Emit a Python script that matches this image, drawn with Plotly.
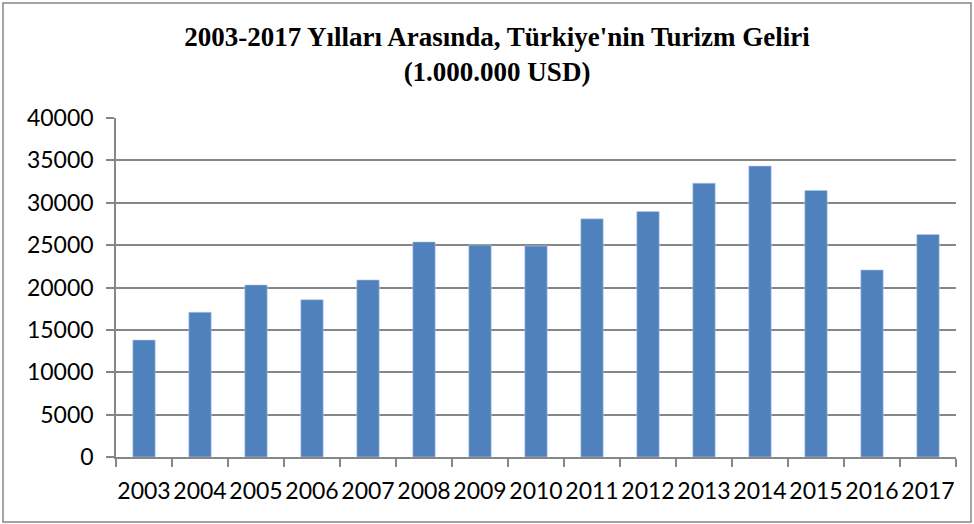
import plotly.graph_objects as go

years = ["2003", "2004", "2005", "2006", "2007", "2008", "2009", "2010",
         "2011", "2012", "2013", "2014", "2015", "2016", "2017"]
revenue = [13800, 17080, 20300, 18560, 20890, 25380, 25020, 24900,
           28100, 28970, 32310, 34330, 31450, 22070, 26250]

W, H = 974, 524
L, R, T, B = 116, 18, 118, 67
pw, ph = W - L - R, H - T - B

fig = go.Figure(go.Bar(
    x=years, y=revenue,
    marker=dict(color="#4F81BD", line=dict(color="#B9CDE5", width=0.6)),
))

def px_to_paper_x(px):
    return (px - L) / pw

def py_to_paper_y(py):
    return (H - B - py) / ph

fig.add_shape(type="rect", xref="paper", yref="paper",
              x0=px_to_paper_x(3), x1=px_to_paper_x(971),
              y0=py_to_paper_y(522), y1=py_to_paper_y(3),
              line=dict(color="#868686", width=1.5), layer="below")

fig.update_layout(
    width=W, height=H,
    margin=dict(l=L, r=R, t=T, b=B, autoexpand=False),
    paper_bgcolor="white", plot_bgcolor="white",
    bargap=0.6,
    showlegend=False,
    title=dict(
        text="2003-2017 Yılları Arasında, Türkiye'nin Turizm Geliri<br>(1.000.000 USD)",
        x=497 / W, xanchor="center", xref="container",
        y=1 - 46 / H, yanchor="top", yref="container",
        font=dict(family="Liberation Serif", size=27, color="black", weight="bold"),
    ),
    xaxis=dict(
        type="category", automargin=False,
        showline=True, linecolor="#868686", linewidth=1.5,
        ticks="outside", tickson="boundaries", ticklen=8, tickwidth=1.5, tickcolor="#868686",
        showgrid=False, tickangle=0, ticklabelstandoff=13,
        tickfont=dict(family="Lato", size=23, color="black"),
    ),
    yaxis=dict(
        range=[0, 40000], dtick=5000, tick0=0, tickformat="d",
        automargin=False, ticklabelstandoff=8,
        showline=True, linecolor="#868686", linewidth=1.5,
        ticks="outside", ticklen=8, tickwidth=1.5, tickcolor="#868686",
        showgrid=True, gridcolor="#868686", gridwidth=1.5,
        zeroline=False,
        tickfont=dict(family="Lato", size=23, color="black"),
    ),
)

fig.write_html("out.html", config={"displayModeBar": False},
               post_script="document.body.style.margin='0';")
